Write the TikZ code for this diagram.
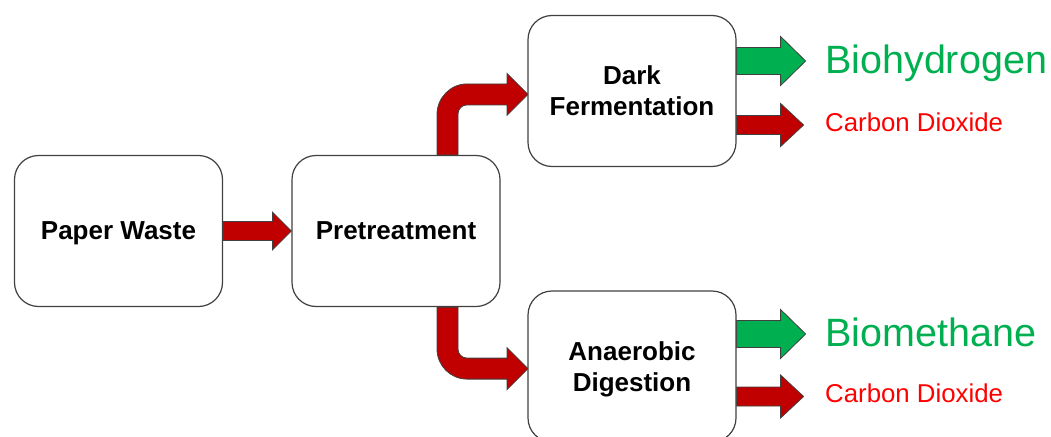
\documentclass[tikz,border=0pt]{standalone}
\usepackage{fontspec}
\setmainfont{Liberation Sans}
\usetikzlibrary{calc,backgrounds}
\definecolor{arrowred}{HTML}{C00000}
\definecolor{arrowgreen}{HTML}{00B050}
\definecolor{textred}{HTML}{FF0000}
\definecolor{textgreen}{HTML}{00B050}
\newcommand\myblockarrow[6]{%
  \path[#1] ($(#2)+(0,-#4)$) -- ($(#3)+(-#6,-#4)$) -- ($(#3)+(-#6,-#5)$) -- (#3)
    -- ($(#3)+(-#6,#5)$) -- ($(#3)+(-#6,#4)$) -- ($(#2)+(0,#4)$) -- cycle;}
\begin{document}
\begin{tikzpicture}[x=1pt,y=-1pt,
  procbox/.style={draw=black!75, line width=1.2pt, fill=white, rounded corners=24pt,
    minimum width=208pt, minimum height=151pt, align=center, inner sep=0pt, text depth=0pt,
    font=\bfseries\fontsize{26}{31}\selectfont},
  redarrow/.style={fill=arrowred, draw=black!75, line width=0.8pt},
  greenarrow/.style={fill=arrowgreen, draw=black!75, line width=0.8pt},
  biglabel/.style={anchor=base west, inner sep=0pt, text=textgreen, font=\fontsize{39.5}{44}\selectfont},
  smalllabel/.style={anchor=base west, inner sep=0pt, text=textred, font=\fontsize{25.8}{30}\selectfont}]
\useasboundingbox (0,0) rectangle (1051,436);
\clip (0,0) rectangle (1051,436);
\node[procbox] (pw) at (118.5,231) {Paper Waste};
\node[procbox] (pt) at (396,231) {Pretreatment};
\node[procbox] (df) at (632,91) {Dark\\Fermentation};
\node[procbox] (ad) at (632,366.5) {Anaerobic\\Digestion};
\node[biglabel] (bh) at (825,74) {Biohydrogen};
\node[smalllabel] (c1) at (825,131) {Carbon Dioxide};
\node[biglabel] (bm) at (825,346) {Biomethane};
\node[smalllabel] (c2) at (825,402) {Carbon Dioxide};
\begin{pgfonlayer}{background}
\myblockarrow{redarrow}{pw.east}{pt.west}{9.5}{19}{19}
% bent arrow up
\path[redarrow] (pt.north) ++(41,0) -- ++(0,-40.5)
  .. controls +(0,-16.5) and +(-16.5,0) .. ++(30,-30.5)
  -- ++(40,0) -- ++(0,-10.5) -- ++(21,21) -- ++(-21,21) -- ++(0,-10.5)
  -- ++(-40,0) .. controls +(-5,0) and +(0,-5) .. ++(-9,9)
  -- ++(0,41) -- cycle;
% bent arrow down
\path[redarrow] (pt.south) ++(41,0) -- ++(0,42)
  .. controls +(0,16.5) and +(-16.5,0) .. ++(30,30)
  -- ++(40,0) -- ++(0,10.5) -- ++(21,-21) -- ++(-21,-21) -- ++(0,10.5)
  -- ++(-40,0) .. controls +(-5,0) and +(0,5) .. ++(-9,-9)
  -- ++(0,-42) -- cycle;
\coordinate (g1s) at ($(df.east)+(0,-30)$);
\coordinate (g1t) at ($(df.east)+(69,-30)$);
\coordinate (r1s) at ($(df.east)+(0,34)$);
\coordinate (r1t) at ($(df.east)+(67,34)$);
\coordinate (g2s) at ($(ad.east)+(0,-32.5)$);
\coordinate (g2t) at ($(ad.east)+(69,-32.5)$);
\coordinate (r2s) at ($(ad.east)+(0,30)$);
\coordinate (r2t) at ($(ad.east)+(67,30)$);
\myblockarrow{greenarrow}{g1s}{g1t}{13.5}{24.5}{25}
\myblockarrow{redarrow}{r1s}{r1t}{9.5}{21.5}{23}
\myblockarrow{greenarrow}{g2s}{g2t}{13.5}{24.5}{25}
\myblockarrow{redarrow}{r2s}{r2t}{9.5}{21.5}{23}
\end{pgfonlayer}
\end{tikzpicture}
\end{document}
